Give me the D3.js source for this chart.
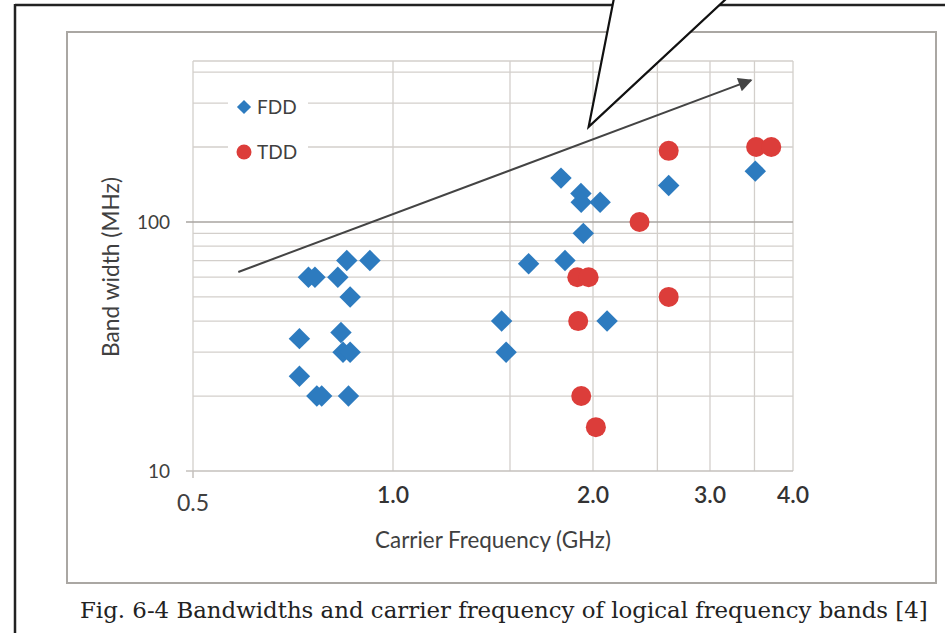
<!DOCTYPE html>
<html>
<head>
<meta charset="utf-8">
<script src="https://cdn.jsdelivr.net/npm/d3@7"></script>
<style>
  body { margin: 0; background: #fff; }
  svg { display: block; }
</style>
</head>
<body>
<svg id="chart" width="945" height="633"></svg>
<script>
// values (GHz, MHz)
const fddFreq = [0.723, 0.723, 0.746, 0.763, 0.768, 0.781, 0.826, 0.835, 0.841, 0.852, 0.857, 0.862, 0.862, 0.923,
                 1.457, 1.48, 1.60, 1.79, 1.815, 1.918, 1.92, 1.934, 2.05, 2.10, 2.6, 3.51];
const fddBw   = [24, 34, 60, 60, 20, 20, 60, 36, 30, 70, 20, 50, 30, 70,
                 40, 30, 68, 150, 70, 130, 120, 90, 120, 40, 140, 160];
const tddFreq = [1.894, 1.97, 1.90, 1.92, 2.02, 2.35, 2.6, 2.6, 3.52, 3.71];
const tddBw   = [60, 60, 40, 20, 15, 100, 193, 50, 200, 200];

const xTicks = [0.5, 1, 2, 3, 4];
const xGrid = [0.5, 1, 1.5, 2, 2.5, 3, 3.5, 4];
const yTicks = [10, 100];
const yGrid = [20, 30, 40, 50, 60, 70, 80, 90, 200, 300, 400];
const seriesNames = ['FDD', 'TDD'];
// trend arrow, in data units: [freq, bandwidth]
const trend = [[0.585, 63], [3.46, 371]];
const captionText = 'Fig. 6\u20104 Bandwidths and carrier frequency of logical frequency bands [4]';

const blue = '#2d7bbf', red = '#dc3d3a', txt = '#404040', grid = '#d3cfcb';
const svg = d3.select('#chart');

// scale a text's font so it spans the width it has in the figure
function fitText(sel, size, width) {
  sel.attr('font-size', size);
  const w = sel.node().getComputedTextLength();
  sel.attr('font-size', size * width / w);
}

// page frame + chart box
svg.append('line').attr('x1', 15).attr('x2', 945).attr('y1', 5).attr('y2', 5)
  .attr('stroke', '#222').attr('stroke-width', 2.5);
svg.append('line').attr('x1', 15).attr('x2', 15).attr('y1', 4).attr('y2', 633)
  .attr('stroke', '#222').attr('stroke-width', 2.5);
svg.append('rect').attr('x', 67).attr('y', 32).attr('width', 869).attr('height', 551)
  .attr('fill', 'none').attr('stroke', '#aaa7a3').attr('stroke-width', 2);

const x = d3.scaleLog().domain([0.5, 4]).range([193, 793]);
const y = d3.scaleLog().domain([10, 443]).range([471, 61]);

// gridlines
const g = svg.append('g');
g.selectAll('.vg').data(xGrid).enter().append('line')
  .attr('x1', d => x(d)).attr('x2', d => x(d)).attr('y1', y(443)).attr('y2', y(10))
  .attr('stroke', grid).attr('stroke-width', 1.3);
g.selectAll('.hg').data(yGrid).enter().append('line')
  .attr('x1', x(0.5)).attr('x2', x(4)).attr('y1', d => y(d)).attr('y2', d => y(d))
  .attr('stroke', grid).attr('stroke-width', 1.3);
g.append('line').attr('x1', x(0.5)).attr('x2', x(4)).attr('y1', y(443)).attr('y2', y(443))
  .attr('stroke', grid).attr('stroke-width', 1.3);
// 10 and 100 lines with tick stubs
g.selectAll('.hm').data(yTicks).enter().append('line')
  .attr('x1', x(0.5) - 7).attr('x2', x(4)).attr('y1', d => y(d)).attr('y2', d => y(d))
  .attr('stroke', d => d == 100 ? '#a9a5a1' : '#c4c0bc').attr('stroke-width', 1.5);
g.append('line').attr('x1', x(0.5)).attr('x2', x(0.5)).attr('y1', y(10)).attr('y2', y(10) + 7)
  .attr('stroke', '#c4c0bc').attr('stroke-width', 1.5);

// tick labels
svg.selectAll('.yl').data(yTicks).enter().append('text')
  .attr('x', 170).attr('y', d => y(d)).attr('dy', '0.35em').attr('text-anchor', 'end')
  .attr('font-family', 'Lato, sans-serif').attr('font-size', 19).attr('fill', txt)
  .text(d => d);
svg.selectAll('.xl').data(xTicks).enter().append('text')
  .attr('x', d => x(d)).attr('y', d => d == 0.5 ? 511 : 503).attr('text-anchor', 'middle')
  .attr('font-family', 'Lato, sans-serif').attr('font-size', 23)
  .attr('font-weight', d => d == 0.5 ? 400 : 600).attr('fill', d => d == 0.5 ? txt : '#333')
  .text(d3.format('.1f'));

// axis titles
const xt = svg.append('text').attr('x', 493).attr('y', 548).attr('text-anchor', 'middle')
  .attr('font-family', 'Lato, sans-serif').attr('fill', txt)
  .text('Carrier Frequency (GHz)');
fitText(xt, 20, 236);
const yt = svg.append('text').attr('transform', 'translate(119,267) rotate(-90)').attr('text-anchor', 'middle')
  .attr('font-family', 'Lato, sans-serif').attr('fill', txt)
  .text('Band width (MHz)');
fitText(yt, 20, 180);

// trend arrow
svg.append('defs').append('marker').attr('id', 'ah')
  .attr('viewBox', '0 0 10 10').attr('refX', 9).attr('refY', 5)
  .attr('markerWidth', 9).attr('markerHeight', 7).attr('markerUnits', 'strokeWidth')
  .attr('orient', 'auto')
  .append('path').attr('d', 'M0,0L10,5L0,10Z').attr('fill', '#444');
svg.append('path')
  .attr('d', d3.line().x(d => x(d[0])).y(d => y(d[1]))(trend))
  .attr('stroke', '#444').attr('stroke-width', 2).attr('fill', 'none')
  .attr('marker-end', 'url(#ah)');

// data points
const fdd = fddFreq.map((f, i) => ({f: f, bw: fddBw[i]}));
const tdd = tddFreq.map((f, i) => ({f: f, bw: tddBw[i]}));
svg.selectAll('.fdd').data(fdd).enter().append('path')
  .attr('d', d3.symbol(d3.symbolSquare, 230))
  .attr('transform', d => `translate(${x(d.f)},${y(d.bw)}) rotate(45)`)
  .attr('fill', blue);
svg.selectAll('.tdd').data(tdd).enter().append('circle')
  .attr('cx', d => x(d.f)).attr('cy', d => y(d.bw)).attr('r', 10)
  .attr('fill', red);

// legend
const lg = svg.append('g');
lg.append('rect').attr('x', 228).attr('y', 88).attr('width', 80).attr('height', 82).attr('fill', '#fff');
const li = lg.selectAll('.li').data(seriesNames).enter().append('g')
  .attr('transform', (d, i) => `translate(244,${107 + i * 45})`);
li.filter(d => d == 'FDD').append('path')
  .attr('d', d3.symbol(d3.symbolSquare, 100)).attr('transform', 'rotate(45)').attr('fill', blue);
li.filter(d => d == 'TDD').append('circle').attr('r', 7.5).attr('fill', red);
li.append('text').attr('x', 13).attr('dy', '0.36em')
  .attr('font-family', 'Lato, sans-serif').attr('font-size', 19).attr('fill', txt)
  .text(d => d);

// callout pointer (white wedge from the top edge)
const tip = [x(1.97), y(241)];
svg.append('path')
  .attr('d', `M614,-2L${tip[0]},${tip[1]}L727,-2Z`)
  .attr('fill', '#fff').attr('stroke', 'none');
svg.append('path')
  .attr('d', `M614,-2L${tip[0]},${tip[1]}L727,-2`)
  .attr('fill', 'none').attr('stroke', '#111').attr('stroke-width', 2.2);

// caption, fitted to its width in the figure
const cap = svg.append('text').attr('x', 80).attr('y', 618)
  .attr('font-family', '"DejaVu Serif", "Liberation Serif", serif')
  .attr('fill', '#222').text(captionText);
fitText(cap, 20, 848);
</script>
</body>
</html>
